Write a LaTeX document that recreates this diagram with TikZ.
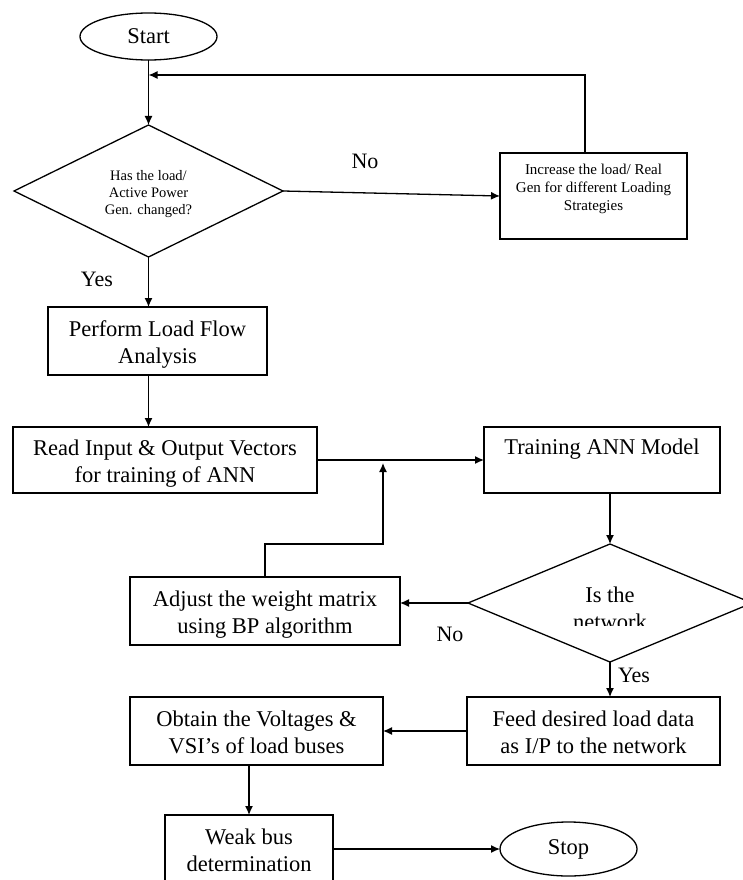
\documentclass[tikz,border=0pt]{standalone}
\usepackage{fontspec}
\setmainfont{Liberation Serif}
\usetikzlibrary{shapes.geometric,arrows.meta}
\begin{document}
\begin{tikzpicture}[x=1pt,y=-1pt,
  every node/.style={inner sep=0pt, outer sep=0pt},
  line/.style={line width=1.3pt, draw=black},
  arr/.style={line, -{Latex[length=9pt,width=8pt]}},
  boxA/.style={draw, line width=1.3pt, rectangle, align=center, text height=45pt, text depth=0pt, font=\fontsize{22.5}{27}\selectfont},
  term/.style={draw, line width=1.3pt, ellipse, font=\fontsize{22.5}{27}\selectfont},
  dec/.style={draw, line width=1.3pt, diamond, shape aspect=2, align=center},
  lbl/.style={font=\fontsize{22}{27}\selectfont}
]
\useasboundingbox (0,0) rectangle (743,880);

% nodes
\node[term, minimum width=137pt, minimum height=47pt] (start) at (148.5,36.5) {Start};
\node[dec, minimum width=269pt, minimum height=132pt, text height=47pt, text depth=0pt, font=\fontsize{14.5}{17}\selectfont] (d1) at (148.5,191) {Has the load/\\Active Power\\Gen. changed?};
\node[boxA, minimum width=187pt, minimum height=86pt, text height=64.2pt, font=\fontsize{15}{18}\selectfont] (inc) at (593.5,196) {Increase the load/ Real\\Gen for different Loading\\Strategies\\\mbox{}};
\node[boxA, minimum width=219pt, minimum height=68pt] (perf) at (157.5,341) {Perform Load Flow\\Analysis};
\node[boxA, minimum width=304pt, minimum height=66pt] (read) at (165,460) {Read Input \& Output Vectors\\for training of ANN};
\node[boxA, minimum width=236pt, minimum height=66pt, text height=43pt] (train) at (602,460) {Training ANN Model\\\mbox{}};
\node[dec, minimum width=284pt, minimum height=118pt] (d2) at (610,603) {};
\begin{scope}
  \clip (0,0) rectangle (743,625);
  \node[align=center, font=\fontsize{22.5}{27}\selectfont] (dtext) at (610,608) {Is the\\network};
\end{scope}
\node[boxA, minimum width=270pt, minimum height=68pt] (adj) at (265,611) {Adjust the weight matrix\\using BP algorithm};
\node[boxA, minimum width=253pt, minimum height=68pt] (feed) at (593.5,731) {Feed desired load data\\as I/P to the network};
\node[boxA, minimum width=253pt, minimum height=68pt] (obt) at (256.5,731) {Obtain the Voltages \&\\VSI’s of load buses};
\node[boxA, minimum width=168pt, minimum height=68pt] (weak) at (249,849) {Weak bus\\determination};
\node[term, minimum width=137pt, minimum height=54pt] (stop) at (568.5,849) {Stop};

% labels
\node[lbl] (no1) at (365,161) {No};
\node[lbl] (yes1) at (97,279) {Yes};
\node[lbl] (no2) at (450,634) {No};
\node[lbl] (yes2) at (634,675) {Yes};

% helper coordinates
\coordinate (j1) at (148.5,75);
\coordinate (j2) at (383,463);

% connectors
\draw[arr] (start.south) -- (d1.north);
\draw[arr] (d1.east) -- (inc.west);
\draw[arr] ([xshift=-8.5pt]inc.north) |- (j1);
\draw[arr] (d1.south) -- (d1.south |- perf.north);
\draw[arr] (d1.south |- perf.south) -- (d1.south |- read.north);
\draw[arr] (read.east) -- (train.west);
\draw[arr] (adj.north) -- (adj.north |- 0,544) -| (j2);
\draw[arr] (d2.north |- train.south) -- (d2.north);
\draw[arr] (d2.west) -- (d2.west -| adj.east);
\draw[arr] (d2.south) -- (d2.south |- feed.north);
\draw[arr] (feed.west) -- (obt.east);
\draw[arr] (weak.north |- obt.south) -- (weak.north);
\draw[arr] (weak.east) -- (stop.west);
\end{tikzpicture}
\end{document}
